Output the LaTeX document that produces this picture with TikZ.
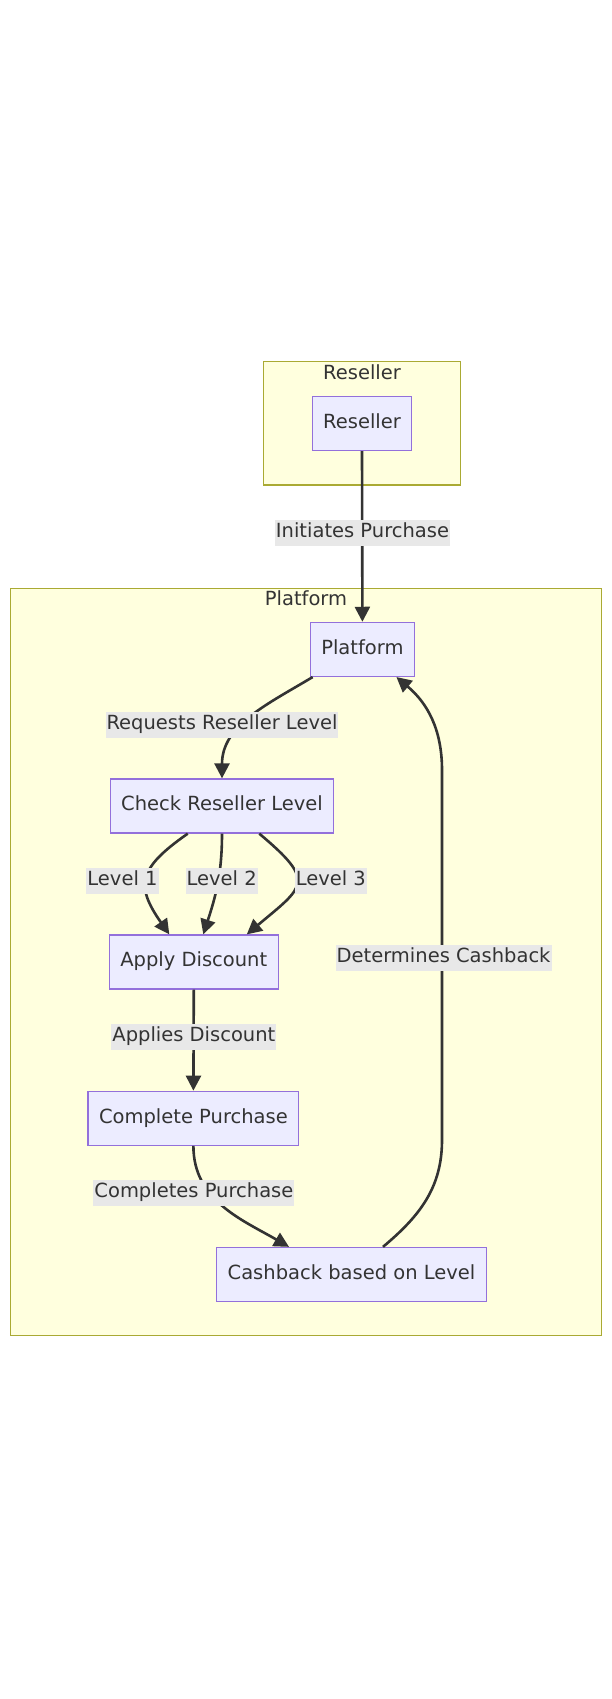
\documentclass[tikz,border=0pt]{standalone}
\usepackage{fontspec}
\setmainfont{DejaVu Sans}
\usepackage{tikz}
\usetikzlibrary{arrows.meta}

\definecolor{grpfill}{HTML}{FFFFDE}
\definecolor{grpline}{HTML}{AAAA33}
\definecolor{boxfill}{HTML}{ECECFF}
\definecolor{boxline}{HTML}{9370DB}
\definecolor{ink}{HTML}{333333}
\definecolor{lblfill}{HTML}{E8E8E8}

\begin{document}
\begin{tikzpicture}[x=1pt,y=1pt,>={Triangle[length=15pt,width=15pt]},
	font=\fontsize{19.5}{23}\selectfont,text=ink,
	every node/.style={text height=14pt,text depth=4.5pt},
	box/.style={draw=boxline,fill=boxfill,line width=1.3pt,minimum height=54pt,inner xsep=11pt},
	grp/.style={draw=grpline,fill=grpfill,line width=1.3pt},
	flow/.style={->,draw=ink,line width=2.6pt},
	lbl/.style={fill=lblfill,inner xsep=1pt,inner ysep=1pt,minimum height=26pt}]
			\useasboundingbox[fill=white] (0,0) rectangle (612,-1699);
			
			\draw[grp] (263.5,-361.8) rectangle (460.5,-485);
			\draw[grp] (10.8,-588.2) rectangle (601.2,-1335.6);
			\node (resgrp) at (362,-375) {Reseller};
			\node (platgrp) at (306,-601) {Platform};
			
			\node[box] (reseller) at (362,-423.5) {Reseller};
			\node[box] (plat) at (362.4,-649.4) {Platform};
			\node[box] (check) at (222,-806) {Check Reseller Level};
			\node[box] (apply) at (193.8,-962) {Apply Discount};
			\node[box] (complete) at (193.4,-1118.3) {Complete Purchase};
			\node[box] (cashback) at (351.5,-1274.5) {Cashback based on Level};
			
			\coordinate (up1) at (442,-1140);
			\coordinate (up2) at (442,-770);
			
			\draw[flow] (reseller.south)--(plat.north);
			\draw[flow] ([xshift=3pt]plat.south west) to[out=211,in=90] (check.north);
			\draw[flow] ([xshift=-34.3pt]check.south) to[out=215,in=125,looseness=1.5] ([xshift=-24.5pt]apply.north);
			\draw[flow] (check.south) to[out=-90,in=72] ([xshift=9.5pt]apply.north);
			\draw[flow] ([xshift=37.3pt]check.south) to[out=-40,in=40,looseness=1.9] ([xshift=53pt]apply.north);
			\draw[flow] (apply.south)--(complete.north);
			\draw[flow] (complete.south) to[out=-90,in=150] ([xshift=-62.5pt]cashback.north);
			\draw[flow] ([xshift=31.5pt]cashback.north) to[out=40,in=-90] (up1)--(up2)
			to[out=90,in=-40] ([xshift=34pt]plat.south);
			
			\node[lbl] (initiates) at (362.5,-533) {Initiates Purchase};
			\node[lbl] (requests) at (222,-724.7) {Requests Reseller Level};
			\node[lbl] (lvlone) at (122.5,-880.5) {Level 1};
			\node[lbl] (lvltwo) at (221.7,-880.5) {Level 2};
			\node[lbl] (lvlthree) at (330.8,-880.5) {Level 3};
			\node[lbl] (applies) at (193.9,-1037) {Applies Discount};
			\node[lbl] (completes) at (193.9,-1192.5) {Completes Purchase};
			\node[lbl] (determines) at (443.6,-958) {Determines Cashback};
		\end{tikzpicture}
\end{document}
